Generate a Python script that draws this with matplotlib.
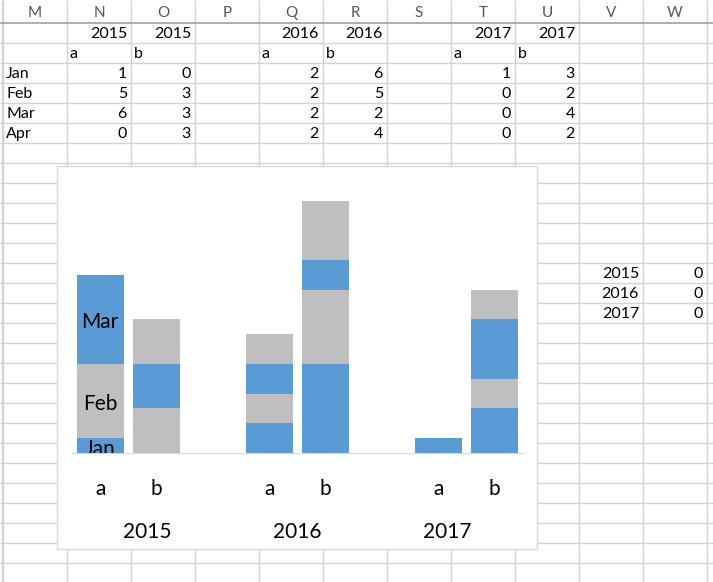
import matplotlib.pyplot as plt
from matplotlib.patches import Rectangle
import numpy as np

plt.rcParams['font.family'] = ['Lato', 'DejaVu Sans']

# sheet data
col_letters = ['M', 'N', 'O', 'P', 'Q', 'R', 'S', 'T', 'U', 'V', 'W']
months = ['Jan', 'Feb', 'Mar', 'Apr']
years = ['2015', '2016', '2017']
series = ['a', 'b']
vals_2015a = [1, 5, 6, 0]
vals_2015b = [0, 3, 3, 3]
vals_2016a = [2, 2, 2, 2]
vals_2016b = [6, 5, 2, 4]
vals_2017a = [1, 0, 0, 0]
vals_2017b = [3, 2, 4, 2]
side_years = ['2015', '2016', '2017']
side_vals = [0, 0, 0]

BLUE = '#5B9BD5'
GRAY = '#BFBFBF'
GRID = '#d4d4d4'
CELL_FS = 11.5

W, H = 713, 582
fig = plt.figure(figsize=(W / 100, H / 100), dpi=100)

# spreadsheet background in pixel coords
bg = fig.add_axes([0, 0, 1, 1])
bg.set_xlim(0, W)
bg.set_ylim(H, 0)
bg.axis('off')

col_w, row_h = 64, 20
x0, y0 = 3, 23
col_edges = [x0 + col_w * k for k in range(len(col_letters) + 1)]
row_edges = [y0 + row_h * k for k in range(28)]

bg.vlines([2] + col_edges, 0, H, color=GRID, lw=1, zorder=1)
bg.hlines(row_edges[1:], 0, W, color=GRID, lw=1, zorder=1)
bg.hlines(y0, 0, W, color='#a0a0a0', lw=1.2, zorder=1)

for i, c in enumerate(col_letters):
    bg.text(col_edges[i] + col_w / 2, 13, c, ha='center', va='center',
            fontsize=11, color='#555555')

def cell(col, row, txt, align='right'):
    cx = col_edges[col]
    cy = y0 + row_h * row + row_h / 2 + 1
    if align == 'right':
        bg.text(cx + col_w - 4, cy, txt, ha='right', va='center', fontsize=CELL_FS)
    else:
        bg.text(cx + 3, cy, txt, ha='left', va='center', fontsize=CELL_FS)

table_cols = [(1, '2015', 'a', vals_2015a), (2, '2015', 'b', vals_2015b),
              (4, '2016', 'a', vals_2016a), (5, '2016', 'b', vals_2016b),
              (7, '2017', 'a', vals_2017a), (8, '2017', 'b', vals_2017b)]
for col, yr, s, vals in table_cols:
    cell(col, 0, yr)
    cell(col, 1, s, align='left')
    for r, v in enumerate(vals):
        cell(col, 2 + r, str(v))
for r, m in enumerate(months):
    cell(0, 2 + r, m, align='left')
for r, (yr, v) in enumerate(zip(side_years, side_vals)):
    cell(9, 12 + r, yr)
    cell(10, 12 + r, str(v))

# chart area
bg.add_patch(Rectangle((57, 166), 480, 383, facecolor='white',
                       edgecolor='#d9d9d9', lw=1, zorder=2))

# chart plot area
base_px, unit_px = 453, 14.85
ymax = 18
left_px, right_px = 72, 523
ax = fig.add_axes([left_px / W, (H - base_px) / H, (right_px - left_px) / W,
                   ymax * unit_px / H])
ax.patch.set_alpha(0)
for s in ['top', 'right', 'left']:
    ax.spines[s].set_visible(False)
ax.spines['bottom'].set_color('#d9d9d9')
ax.set_yticks([])

stacks = [vals_2015a, vals_2015b, vals_2016a, vals_2016b, vals_2017a, vals_2017b]
xpos = [0, 1, 3, 4, 6, 7]
month_colors = [BLUE, GRAY, BLUE, GRAY]
bottoms = np.zeros(len(stacks))
for mi in range(len(months)):
    h = np.array([st[mi] for st in stacks])
    ax.bar(xpos, h, width=0.83, bottom=bottoms, color=month_colors[mi], zorder=2)
    # data labels only on the first bar
    if stacks[0][mi] > 0:
        ax.text(xpos[0], bottoms[0] + h[0] / 2 - 0.2, months[mi], ha='center',
                va='center', fontsize=15, clip_on=True, zorder=3)
    bottoms += h

ax.set_xlim(-0.5, 7.5)
ax.set_ylim(0, ymax)
ax.set_xticks(xpos)
ax.set_xticklabels(series * 3, fontsize=15)
ax.tick_params(axis='x', length=0, pad=19)

year_x = [0.83, 3.49, 6.15]
for xx, yr in zip(year_x, years):
    ax.text(xx, -79 / unit_px, yr, ha='center', va='center', fontsize=15,
            clip_on=False)

fig.savefig('out.png', dpi=100)
